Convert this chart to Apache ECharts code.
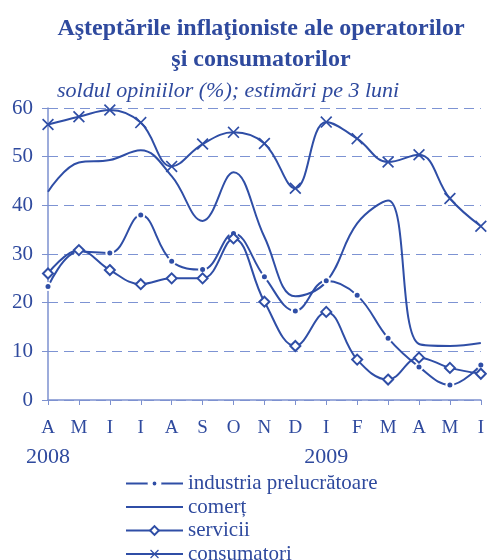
<!DOCTYPE html>
<html lang="ro">
<head>
  <meta charset="utf-8">
  <title>Aşteptările inflaţioniste</title>
  <script src="https://cdn.jsdelivr.net/npm/echarts@6/dist/echarts.min.js"></script>
  <style>
    html, body { margin: 0; padding: 0; background: #fff; }
    #main { width: 487px; height: 560px; }
  </style>
</head>
<body>
  <div id="main"></div>
  <script>
    // luni (apr 2008 - iun 2009)
    var luni = ['A', 'M', 'I', 'I', 'A', 'S', 'O', 'N', 'D', 'I', 'F', 'M', 'A', 'M', 'I'];
    var ani = ['2008', '', '', '', '', '', '', '', '', '2009', '', '', '', '', ''];
    var yTicks = [0, 10, 20, 30, 40, 50, 60];

    var industria = [23.3, 30.5, 30.2, 38, 28.5, 26.8, 34.2, 25.3, 18.3, 24.5, 21.5, 12.7, 6.8, 3.1, 7.2];
    var comert = [42.8, 48.8, 49.3, 51.3, 46, 36.8, 46.8, 33.5, 21.3, 24.3, 36.3, 41, 11.5, 11.1, 11.7];
    var servicii = [26, 30.8, 26.7, 23.8, 25, 25, 33.2, 20.2, 11.1, 18.1, 8.3, 4.2, 8.7, 6.6, 5.4];
    var consumatori = [56.6, 58.2, 59.6, 57, 48, 52.6, 55, 52.7, 43.5, 57.1, 53.7, 48.9, 50.4, 41.4, 35.7];

    var albastru = '#2f4ea6';
    var textCol = '#2f4a9e';
    var serif = '"Liberation Serif", "DejaVu Serif", serif';

    var myChart = echarts.init(document.getElementById('main'));

    var option = {
      animation: false,
      title: [{
        text: 'Aşteptările inflaţioniste ale operatorilor\nşi consumatorilor',
        left: 256,
        top: 8,
        textAlign: 'center',
        textStyle: {
          fontFamily: serif,
          fontWeight: 'bold',
          fontSize: 24,
          lineHeight: 31,
          color: textCol
        }
      }, {
        text: 'soldul opiniilor (%); estimări pe 3 luni',
        left: 52,
        top: 75,
        textStyle: {
          fontFamily: serif,
          fontStyle: 'italic',
          fontWeight: 'normal',
          fontSize: 22,
          color: textCol
        }
      }],
      legend: {
        orient: 'vertical',
        left: 125,
        top: 473,
        height: 120,
        padding: 0,
        itemWidth: 57,
        itemHeight: 11,
        itemGap: 2.5,
        textStyle: {
          fontFamily: serif,
          fontSize: 21,
          color: textCol
        },
        data: [
          { name: 'industria prelucrătoare', itemStyle: { borderColor: '#fff', borderWidth: 5 } },
          { name: 'comerț', itemStyle: { opacity: 0 } },
          'servicii',
          'consumatori'
        ]
      },
      grid: {
        left: 48,
        right: 6,
        top: 108,
        bottom: 160
      },
      xAxis: {
        type: 'category',
        boundaryGap: false,
        data: luni,
        axisLine: { lineStyle: { color: '#7d91cf', width: 1.5 } },
        axisTick: { length: 5, lineStyle: { color: '#7d91cf' } },
        axisLabel: {
          margin: 14,
          fontFamily: serif,
          fontSize: 19,
          lineHeight: 28,
          color: textCol,
          interval: 0,
          formatter: function (value, index) {
            return value + '\n' + (ani[index] ? '{an|' + ani[index] + '}' : ' ');
          },
          rich: {
            an: { fontFamily: serif, fontSize: 22, lineHeight: 30, color: textCol }
          }
        }
      },
      yAxis: {
        type: 'value',
        min: yTicks[0],
        max: yTicks[yTicks.length - 1],
        interval: 10,
        axisLine: { show: true, lineStyle: { color: '#7d91cf', width: 1.5 } },
        axisTick: { show: true, length: 6, lineStyle: { color: '#7d91cf' } },
        axisLabel: {
          margin: 15,
          fontFamily: serif,
          fontSize: 21,
          color: textCol
        },
        splitLine: {
          show: true,
          lineStyle: { color: '#7d93d3', type: [10, 6], width: 1.2 }
        }
      },
      series: [{
        name: 'industria prelucrătoare',
        type: 'line',
        smooth: 0.4,
        data: industria,
        symbol: 'circle',
        symbolSize: 7,
        lineStyle: { color: albastru, width: 2 },
        itemStyle: { color: albastru, borderColor: '#fff', borderWidth: 2 },
        z: 3
      }, {
        name: 'comerț',
        type: 'line',
        smooth: 0.4,
        data: comert,
        symbol: 'none',
        lineStyle: { color: albastru, width: 2 },
        itemStyle: { color: albastru },
        z: 2
      }, {
        name: 'servicii',
        type: 'line',
        smooth: 0.4,
        data: servicii,
        symbol: 'diamond',
        symbolSize: 10,
        lineStyle: { color: albastru, width: 2 },
        itemStyle: { color: '#fff', borderColor: albastru, borderWidth: 2 },
        z: 4
      }, {
        name: 'consumatori',
        type: 'line',
        smooth: 0.4,
        data: consumatori,
        symbol: 'path://M0,1L1,0L5,4L9,0L10,1L6,5L10,9L9,10L5,6L1,10L0,9L4,5Z',
        symbolSize: 12,
        lineStyle: { color: albastru, width: 2 },
        itemStyle: { color: albastru },
        z: 5
      }]
    };

    myChart.setOption(option);
  </script>
</body>
</html>
